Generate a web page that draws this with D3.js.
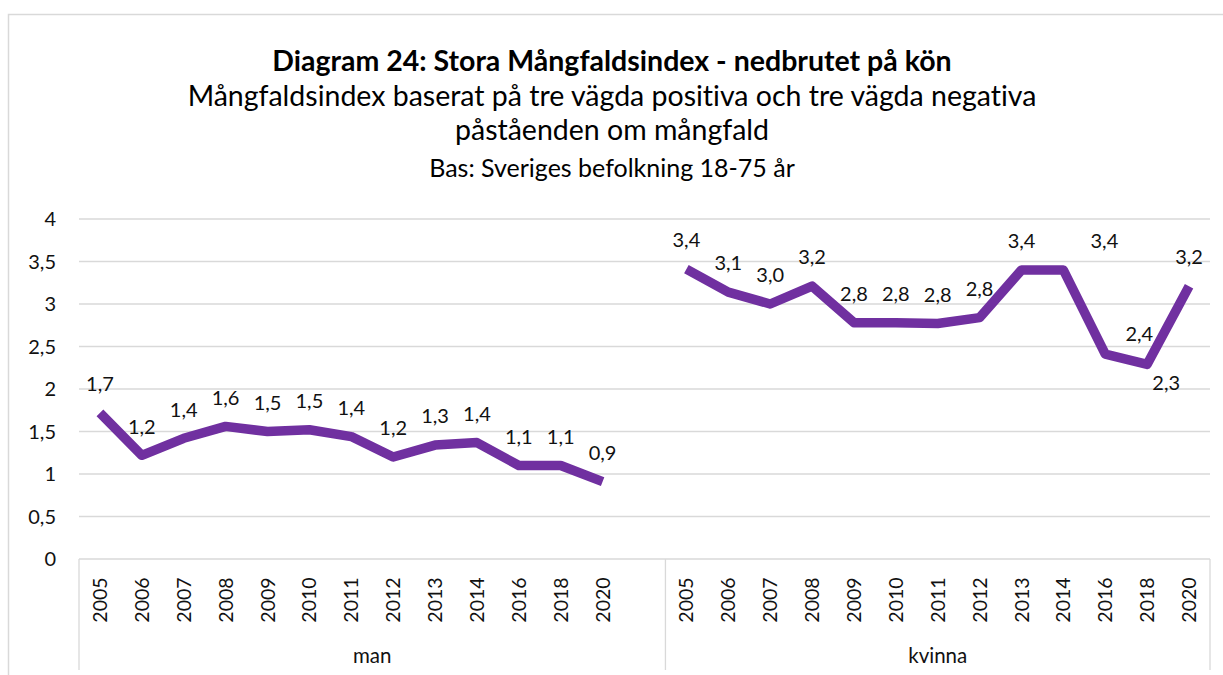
<!DOCTYPE html>
<html lang="sv">
<head>
    <meta charset="UTF-8">
    <title>Diagram 24</title>
    <script src="https://d3js.org/d3.v7.min.js"></script>
    <style>
        body { margin: 0; background: #fff; }
        svg { display: block; font-family: Lato, "Open Sans", sans-serif; font-variant-ligatures: none; }
        .grid line { stroke: #d9d9d9; stroke-width: 1.3px; }
        .ytick text { font-size: 20px; fill: #111; }
        .year { font-size: 19.5px; fill: #111; }
        .group { font-size: 20.5px; fill: #111; }
        .dlabel { font-size: 20px; fill: #111; }
        .series { fill: none; stroke: #7030a0; stroke-width: 9.5px; stroke-linejoin: round; }
    </style>
</head>
<body>
<svg width="1223" height="675"></svg>
<script>
    // Data
    const groups = ["man", "kvinna"];
    const years = ["2005", "2006", "2007", "2008", "2009", "2010", "2011", "2012", "2013", "2014", "2016", "2018", "2020"];
    const manValues = [1.72, 1.22, 1.42, 1.56, 1.50, 1.52, 1.44, 1.20, 1.34, 1.37, 1.10, 1.10, 0.91];
    const kvinnaValues = [3.41, 3.14, 3.00, 3.21, 2.78, 2.78, 2.77, 2.84, 3.40, 3.40, 2.41, 2.29, 3.21];
    const yTicks = [0, 0.5, 1, 1.5, 2, 2.5, 3, 3.5, 4];

    // a few labels are nudged off the default "above" spot, like in the original
    const labelNudge = { "kvinna-2014": [41, 0], "kvinna-2016": [34, 9], "kvinna-2018": [19, 47] };

    const svg = d3.select("svg");
    const plotLeft = 79, plotRight = 1210, plotTop = 219, plotBottom = 559;

    // frame
    svg.append("path")
        .attr("d", "M8.5,680 V14.5 H1230")
        .attr("fill", "none").attr("stroke", "#d9d9d9").attr("stroke-width", 1.5);

    // titles
    const titles = [
        { t: "Diagram 24: Stora Mångfaldsindex - nedbrutet på kön", y: 71, size: 28.5, w: 700 },
        { t: "Mångfaldsindex baserat på tre vägda positiva och tre vägda negativa", y: 106, size: 28.5, w: 400 },
        { t: "påståenden om mångfald", y: 140, size: 28.5, w: 400 },
        { t: "Bas: Sveriges befolkning 18-75 år", y: 177, size: 25, w: 400 }
    ];
    svg.selectAll(".title").data(titles).enter().append("text")
        .attr("x", 612).attr("y", d => d.y)
        .attr("text-anchor", "middle")
        .style("font-size", d => d.size + "px")
        .style("font-weight", d => d.w)
        .attr("fill", "#000")
        .text(d => d.t);

    // category slots: 13 years, one empty gap slot, 13 years
    const slots = [];
    years.forEach(y => slots.push("man-" + y));
    slots.push("gap");
    years.forEach(y => slots.push("kvinna-" + y));

    const x = d3.scaleBand().domain(slots).range([plotLeft, plotRight]);
    const y = d3.scaleLinear().domain([0, 4]).range([plotBottom, plotTop]);
    const fmt = v => d3.format(".1f")(v).replace(".", ",");

    // gridlines
    svg.append("g").attr("class", "grid")
        .selectAll("line").data(yTicks.filter(v => v > 0)).enter().append("line")
        .attr("x1", plotLeft).attr("x2", plotRight)
        .attr("y1", d => y(d)).attr("y2", d => y(d));

    // y axis labels
    svg.append("g").attr("class", "ytick")
        .selectAll("text").data(yTicks).enter().append("text")
        .attr("x", 56).attr("y", d => y(d)).attr("dy", "0.36em")
        .attr("text-anchor", "end")
        .text(d => d === 0 ? "0" : fmt(d).replace(",0", ""));

    // category axis box
    const axisG = svg.append("g").attr("class", "grid");
    axisG.append("line").attr("x1", plotLeft).attr("x2", plotRight).attr("y1", plotBottom).attr("y2", plotBottom);
    const seps = [plotLeft, x("gap") + x.bandwidth(), plotRight];
    axisG.selectAll(".sep").data(seps).enter().append("line")
        .attr("x1", d => d).attr("x2", d => d)
        .attr("y1", plotBottom).attr("y2", 670);

    // year labels
    svg.selectAll(".year").data(slots.filter(s => s !== "gap")).enter().append("text")
        .attr("class", "year")
        .attr("transform", d => `translate(${x(d) + x.bandwidth() / 2},600) rotate(-90)`)
        .attr("text-anchor", "middle").attr("dy", "0.36em")
        .text(d => d.split("-")[1]);

    // group labels
    const groupSpan = [[plotLeft, seps[1]], [seps[1], plotRight]];
    svg.selectAll(".group").data(groups).enter().append("text")
        .attr("class", "group")
        .attr("x", (d, i) => (groupSpan[i][0] + groupSpan[i][1]) / 2)
        .attr("y", 663)
        .attr("text-anchor", "middle")
        .text(d => d);

    // series
    const seriesData = [
        { g: "man", values: manValues },
        { g: "kvinna", values: kvinnaValues }
    ];
    const line = d3.line()
        .x(d => x(d.key) + x.bandwidth() / 2)
        .y(d => y(d.v));

    seriesData.forEach(s => {
        const pts = s.values.map((v, i) => ({ key: s.g + "-" + years[i], v: v }));
        svg.append("path").attr("class", "series").attr("d", line(pts));

        svg.selectAll(".dl-" + s.g).data(pts).enter().append("text")
            .attr("class", "dlabel")
            .attr("x", d => x(d.key) + x.bandwidth() / 2 + (labelNudge[d.key] ? labelNudge[d.key][0] : 0))
            .attr("y", d => y(d.v) - 29 + (labelNudge[d.key] ? labelNudge[d.key][1] : 0))
            .attr("dy", "0.36em")
            .attr("text-anchor", "middle")
            .text(d => fmt(d.v));
    });
</script>
</body>
</html>
